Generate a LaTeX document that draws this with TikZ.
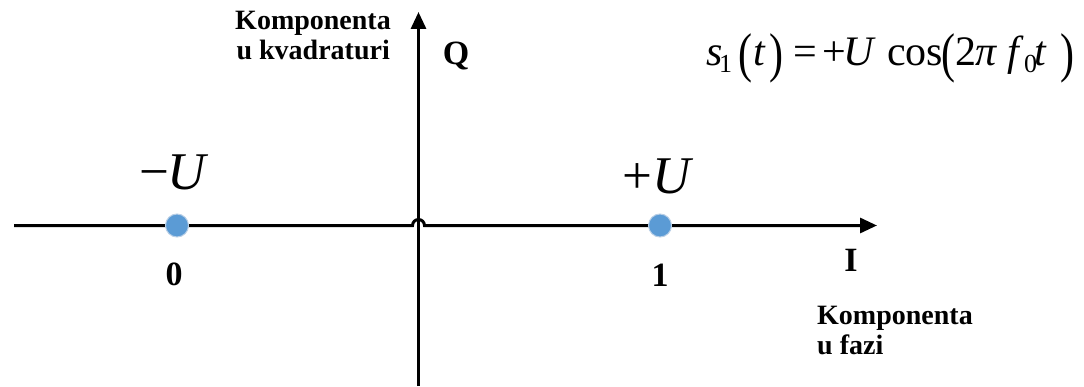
\documentclass[tikz,border=0pt]{standalone}
\usepackage{fontspec}
\usepackage{graphicx}
\setmainfont{Liberation Serif}
\usetikzlibrary{arrows.meta}
\definecolor{dotblue}{HTML}{5B9BD5}
\definecolor{dotedge}{HTML}{B9CFE6}
\newcommand\gl[2]{\makebox[#1pt][l]{#2}}
\newcommand\bpar[1]{\raisebox{-6pt}{\scalebox{1}[1.3]{#1}}}
\newcommand\sbs[1]{\raisebox{-7pt}{\fontsize{26}{26}\selectfont #1}}
\begin{document}
\begin{tikzpicture}[x=1pt,y=1pt,
  axis/.style={line width=3pt,-{Triangle[length=17pt,width=15pt]}},
  dotnode/.style={circle,fill=dotblue,draw=dotedge,line width=1pt,minimum size=23pt,inner sep=0pt},
  boldlbl/.style={font=\fontsize{34}{34}\selectfont\bfseries,inner sep=0pt},
  ulbl/.style={font=\fontsize{53}{53}\selectfont,inner sep=0pt},
  comp/.style={font=\fontsize{28}{30}\selectfont\bfseries,inner sep=0pt},
  formula/.style={font=\fontsize{42}{42}\selectfont,inner sep=0pt}]
\useasboundingbox (0,0) rectangle (1084,386);
% axes
\coordinate (hL) at (14,160.5);
\coordinate (hopL) at (412.5,160.5);
\coordinate (hR) at (877,160.5);
\coordinate (vB) at (418.5,0);
\coordinate (vT) at (418.5,374);
\draw[axis] (vB) -- (vT);
\draw[axis] (hL) -- (hopL) arc[start angle=180,end angle=0,radius=6] -- (hR);
% points
\node[dotnode] (p0) at (177,160.5) {};
\node[dotnode] (p1) at (660,160.5) {};
% labels
\node[ulbl,anchor=base] (mU) at (174,196) {−\kern-2pt\textit{U}};
\node[ulbl,anchor=base] (pU) at (658,193) {+\textit{U}};
\node[boldlbl] (b0) at (174,112) {0};
\node[boldlbl] (b1) at (660,111) {1};
\node[boldlbl] (lI) at (851,126) {I};
\node[boldlbl,anchor=base] (lQ) at (456,321) {Q};
\node[comp,anchor=base east] (kq1) at (391,356) {Komponenta};
\node[comp,anchor=base east] (kq2) at (390,326) {u kvadraturi};
\node[comp,anchor=base west] (kf1) at (817,62) {Komponenta};
\node[comp,anchor=base west] (kf2) at (817,32) {u fazi};
\node[formula,anchor=base west] (eq) at (706,320) {\gl{13}{\textit{s}}\gl{19}{\sbs{1}}\gl{15}{\bpar{(}}\gl{16}{\textit{t}}\gl{24}{\bpar{)}}\gl{29}{=}\gl{21}{+}\gl{44}{\textit{U}}\gl{54}{cos}\gl{14}{\bpar{(}}\gl{20}{2}\gl{32}{\textit{π}}\gl{17}{\textit{f}}\gl{10}{\sbs{0}}\gl{26}{\textit{t}}\bpar{)}};
\end{tikzpicture}
\end{document}
